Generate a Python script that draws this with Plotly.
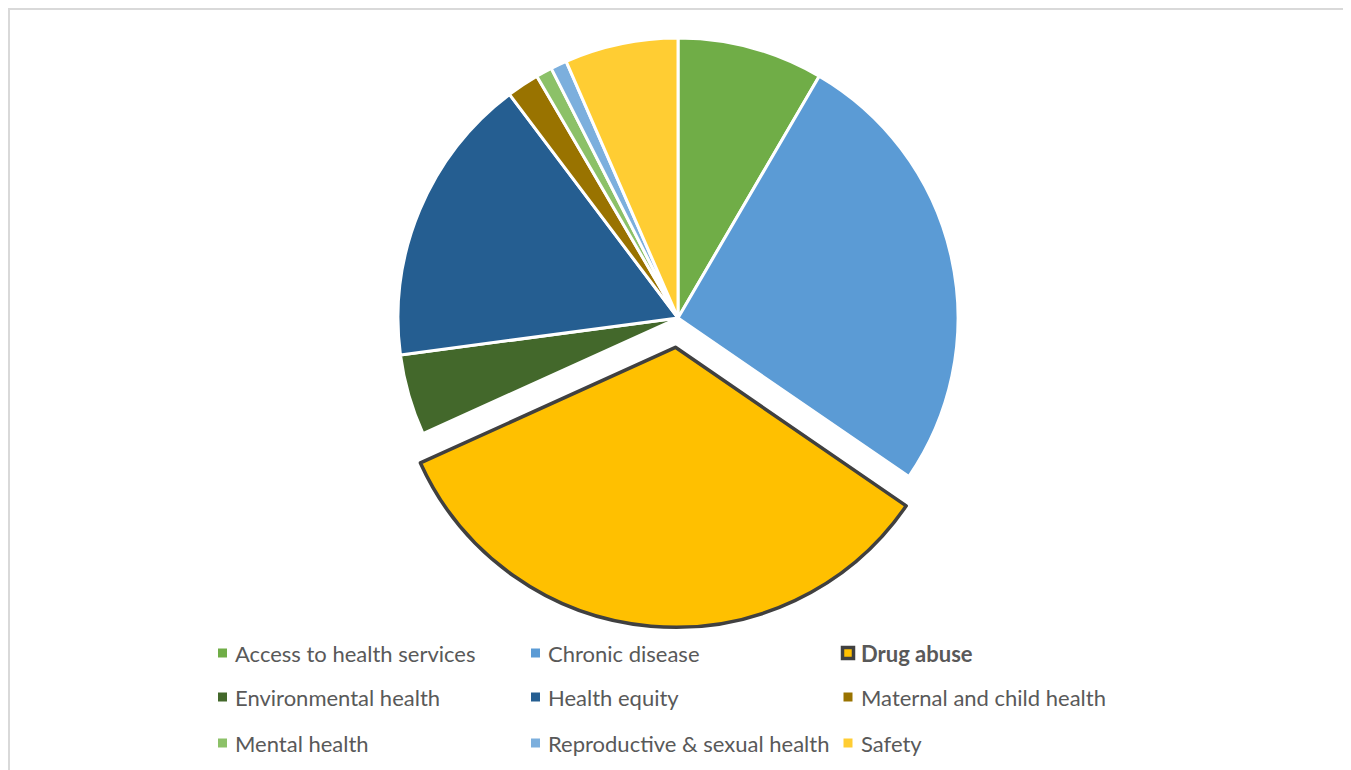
import plotly.graph_objects as go

categories = ["Access to health services", "Chronic disease", "Drug abuse",
              "Environmental health", "Health equity", "Maternal and child health",
              "Mental health", "Reproductive & sexual health", "Safety"]
counts = [9, 28, 36, 5, 18, 2, 1, 1, 7]
colors = ["#70AD47", "#5B9BD5", "#FFC000", "#43682B", "#255E91",
          "#997300", "#8CC168", "#7CAFDD", "#FFCD33"]
highlight = "Drug abuse"

# page has an 8px body margin; figure sized to fit the window
OFF = 8
W, H = 1343, 762
pulls = [0.105 if c == highlight else 0 for c in categories]
line_colors = ["#404040" if c == highlight else "#FFFFFF" for c in categories]
line_widths = [3.5 if c == highlight else 3 for c in categories]

fig = go.Figure(go.Pie(
    labels=categories, values=counts, sort=False, direction="clockwise",
    rotation=0, pull=pulls, textinfo="none", hoverinfo="label+value+percent",
    marker=dict(colors=colors, line=dict(color=line_colors, width=line_widths)),
    domain=dict(x=[0.0, 0.9978], y=[0.1871, 0.9992]),
    showlegend=False,
))

def px(x):
    return (x - OFF) / W

def py(y):
    return 1 - (y - OFF) / H

shapes = [dict(type="rect", xref="paper", yref="paper",
               x0=px(9), x1=px(1348), y0=py(9), y1=py(800),
               line=dict(color="#D9D9D9", width=2), fillcolor="rgba(0,0,0,0)",
               layer="below")]
annotations = []
col_x = [222.5, 535.5, 848]
row_y = [653, 697, 743]
for i, (cat, col) in enumerate(zip(categories, colors)):
    cx = col_x[i % 3]
    cy = row_y[i // 3]
    if cat == highlight:
        s = 5.5
        shapes.append(dict(type="rect", xref="paper", yref="paper",
                           x0=px(cx - s), x1=px(cx + s), y0=py(cy + s), y1=py(cy - s),
                           fillcolor=col, line=dict(color="#404040", width=3.5)))
        txt = "<b>" + cat + "</b>"
    else:
        s = 4.5
        shapes.append(dict(type="rect", xref="paper", yref="paper",
                           x0=px(cx - s), x1=px(cx + s), y0=py(cy + s), y1=py(cy - s),
                           fillcolor=col, line=dict(width=0)))
        txt = cat
    annotations.append(dict(text=txt, xref="paper", yref="paper",
                            x=px(cx + 10.5), y=py(cy), xanchor="left", yanchor="middle",
                            showarrow=False,
                            font=dict(family="Lato", size=22, color="#595959")))

fig.update_layout(
    width=W, height=H, margin=dict(l=0, r=0, t=0, b=0),
    paper_bgcolor="white", plot_bgcolor="white",
    shapes=shapes, annotations=annotations,
)
fig.write_html("out.html")
